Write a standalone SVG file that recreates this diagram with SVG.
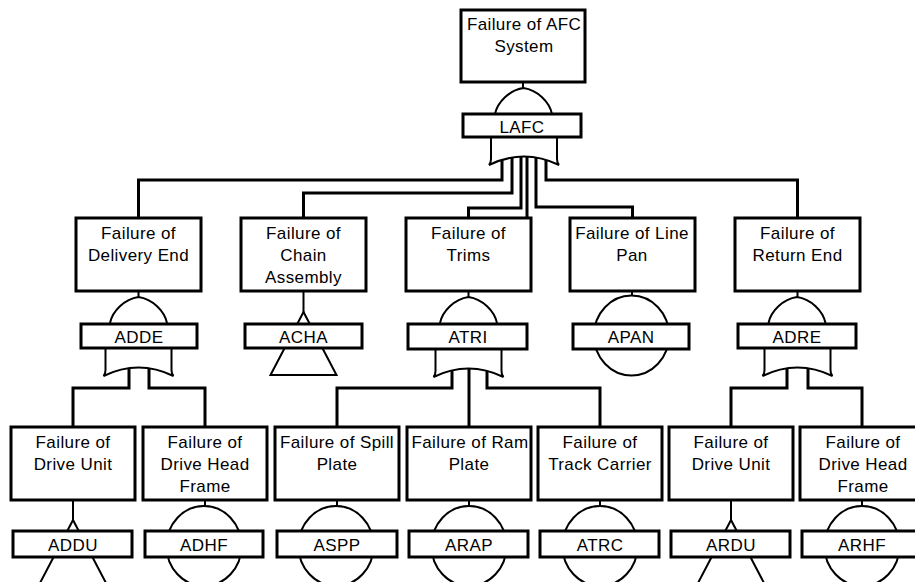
<svg xmlns="http://www.w3.org/2000/svg" width="915" height="582" viewBox="0 0 915 582">
  <style>
    .box { fill: #fff; stroke: #000; stroke-width: 3; }
    .tag { fill: #fff; stroke: #000; stroke-width: 3; }
    .gate { fill: #fff; stroke: #000; stroke-width: 2; }
    .wire { fill: none; stroke: #000; stroke-width: 3; }
    .stem { fill: none; stroke: #000; stroke-width: 2; }
    text { font-family: "Liberation Sans", Arial, sans-serif; font-size: 17px; letter-spacing: 0.4px; text-anchor: middle; fill: #000; }
  </style>
  <defs>
    <!-- AND gate: apex at origin, base 26 below -->
    <path id="and" class="gate" d="M-28.5,26 C-26,14 -14,2 0,0 C14,2 26,14 28.5,26"/>
    <!-- OR gate: top edge at origin (hidden behind the tag) -->
    <path id="or" class="gate" d="M-33,0 V22 Q-33,26 -35,28 Q0,11 35,28 Q33,26 33,22 V0 Z"/>
    <!-- transfer triangle: apex at origin -->
    <path id="xfer" class="gate" d="M0,0 L-33,63 L33,63 Z"/>
    <!-- basic event -->
    <ellipse id="basic" class="gate" cx="0" cy="0" rx="37.5" ry="40"/>
  </defs>

  <g id="connectors">
    <!-- top event to children -->
    <path class="wire" d="M502,150 V180 H138.5 V218"/>
    <path class="wire" d="M512,150 V193 H303.5 V218"/>
    <path class="wire" d="M521,150 V208 H468.5 V218"/>
    <path class="wire" d="M527,150 V218"/>
    <path class="wire" d="M536,150 V207 H632.5 V218"/>
    <path class="wire" d="M546,150 V180 H797.5 V218"/>
    <!-- delivery end -->
    <path class="wire" d="M129,360 V388 H73 V427"/>
    <path class="wire" d="M149,360 V388 H205 V427"/>
    <!-- trims -->
    <path class="wire" d="M452,360 V388 H337 V427"/>
    <path class="wire" d="M469,360 V427"/>
    <path class="wire" d="M487,360 V388 H600 V427"/>
    <!-- return end -->
    <path class="wire" d="M787,360 V388 H731 V427"/>
    <path class="wire" d="M808,360 V388 H862 V427"/>
    <!-- gate stems -->
    <path class="stem" d="M523,82 V90"/>
    <path class="stem" d="M138.5,291 V299"/>
    <path class="stem" d="M303.5,291 V313"/>
    <path class="stem" d="M468.5,291 V299"/>
    <path class="stem" d="M632,291 V296"/>
    <path class="stem" d="M797.5,291 V299"/>
    <path class="stem" d="M73,500 V521"/>
    <path class="stem" d="M205,500 V507"/>
    <path class="stem" d="M337,500 V507"/>
    <path class="stem" d="M469,500 V507"/>
    <path class="stem" d="M600,500 V507"/>
    <path class="stem" d="M731,500 V521"/>
    <path class="stem" d="M862,500 V507"/>
  </g>

  <g id="AFC">
    <rect class="box" x="461" y="10" width="124" height="72"/>
    <text x="524" y="30">Failure of AFC</text>
    <text x="524" y="52">System</text>
    <use href="#and" x="523.5" y="88"/>
    <use href="#or" x="524" y="137"/>
    <rect class="tag" x="463" y="114" width="118" height="23"/>
    <text x="522" y="133">LAFC</text>
  </g>

  <g id="DE">
    <rect class="box" x="76" y="218" width="125" height="73"/>
    <text x="138.5" y="239">Failure of</text>
    <text x="138.5" y="261">Delivery End</text>
    <use href="#and" x="138.5" y="297"/>
    <use href="#or" x="138.5" y="348"/>
    <rect class="tag" x="81" y="324" width="116" height="24"/>
    <text x="139" y="343">ADDE</text>
  </g>

  <g id="CHA">
    <rect class="box" x="241" y="218" width="125" height="73"/>
    <text x="303.5" y="239">Failure of</text>
    <text x="303.5" y="261">Chain</text>
    <text x="303.5" y="283">Assembly</text>
    <use href="#xfer" x="303.5" y="312"/>
    <rect class="tag" x="245" y="324" width="117" height="24"/>
    <text x="303.5" y="343">ACHA</text>
  </g>

  <g id="TRI">
    <rect class="box" x="406" y="218" width="125" height="73"/>
    <text x="468.5" y="239">Failure of</text>
    <text x="468.5" y="261">Trims</text>
    <use href="#and" x="468.5" y="297"/>
    <use href="#or" x="468.5" y="349"/>
    <rect class="tag" x="408" y="324" width="119" height="25"/>
    <text x="468" y="343">ATRI</text>
  </g>

  <g id="PAN">
    <rect class="box" x="570" y="218" width="125" height="73"/>
    <text x="632" y="239">Failure of Line</text>
    <text x="632" y="261">Pan</text>
    <use href="#basic" x="631.5" y="335.5"/>
    <rect class="tag" x="573" y="324" width="116" height="25"/>
    <text x="631" y="343">APAN</text>
  </g>

  <g id="DRE">
    <rect class="box" x="735" y="218" width="125" height="73"/>
    <text x="797.5" y="239">Failure of</text>
    <text x="797.5" y="261">Return End</text>
    <use href="#and" x="797" y="297"/>
    <use href="#or" x="797.5" y="348"/>
    <rect class="tag" x="738" y="324" width="118" height="24"/>
    <text x="797" y="343">ADRE</text>
  </g>

  <g id="DDU">
    <rect class="box" x="11" y="427" width="124" height="73"/>
    <text x="73" y="448">Failure of</text>
    <text x="73" y="470">Drive Unit</text>
    <use href="#xfer" x="73" y="520"/>
    <rect class="tag" x="13" y="531" width="119" height="26"/>
    <text x="73" y="551">ADDU</text>
  </g>

  <g id="DHF">
    <rect class="box" x="143" y="427" width="124" height="73"/>
    <text x="205" y="448">Failure of</text>
    <text x="205" y="470">Drive Head</text>
    <text x="205" y="492">Frame</text>
    <use href="#basic" x="204" y="546"/>
    <rect class="tag" x="145" y="531" width="118" height="26"/>
    <text x="204" y="551">ADHF</text>
  </g>

  <g id="SPP">
    <rect class="box" x="275" y="427" width="124" height="73"/>
    <text x="337" y="448">Failure of Spill</text>
    <text x="337" y="470">Plate</text>
    <use href="#basic" x="336" y="546"/>
    <rect class="tag" x="277" y="531" width="120" height="26"/>
    <text x="337" y="551">ASPP</text>
  </g>

  <g id="RAP">
    <rect class="box" x="407" y="427" width="124" height="73"/>
    <text x="470" y="448">Failure of Ram</text>
    <text x="469" y="470">Plate</text>
    <use href="#basic" x="469" y="546"/>
    <rect class="tag" x="409" y="531" width="119" height="26"/>
    <text x="469" y="551">ARAP</text>
  </g>

  <g id="TRC">
    <rect class="box" x="538" y="427" width="124" height="73"/>
    <text x="600" y="448">Failure of</text>
    <text x="600" y="470">Track Carrier</text>
    <use href="#basic" x="600" y="546"/>
    <rect class="tag" x="540" y="531" width="119" height="26"/>
    <text x="600" y="551">ATRC</text>
  </g>

  <g id="RDU">
    <rect class="box" x="669" y="427" width="124" height="73"/>
    <text x="731" y="448">Failure of</text>
    <text x="731" y="470">Drive Unit</text>
    <use href="#xfer" x="731" y="520"/>
    <rect class="tag" x="671" y="531" width="119" height="26"/>
    <text x="731" y="551">ARDU</text>
  </g>

  <g id="RHF">
    <rect class="box" x="800" y="427" width="126" height="73"/>
    <text x="863" y="448">Failure of</text>
    <text x="863" y="470">Drive Head</text>
    <text x="863" y="492">Frame</text>
    <use href="#basic" x="862" y="546"/>
    <rect class="tag" x="802" y="531" width="122" height="26"/>
    <text x="862" y="551">ARHF</text>
  </g>
</svg>
